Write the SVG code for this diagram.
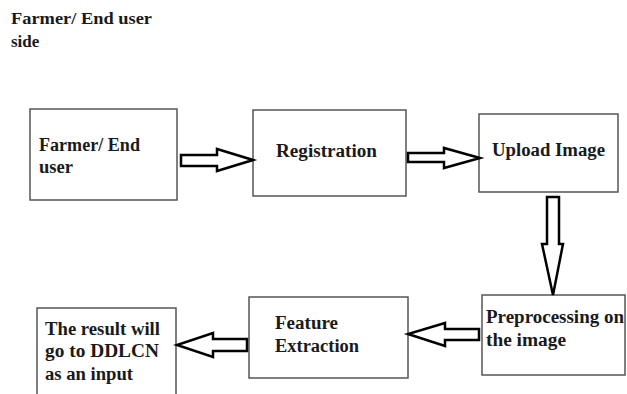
<svg xmlns="http://www.w3.org/2000/svg" width="627" height="394" viewBox="0 0 627 394">
<style>
  .box { fill: #ffffff; stroke: #555555; stroke-width: 1.5; }
  .arr { fill: #ffffff; stroke: #000000; stroke-width: 2.5; stroke-linejoin: miter; }
  text { font-family: "Liberation Serif", "Times New Roman", serif; font-weight: bold; font-size: 18px; fill: #1a1a1a; }
  .title { font-size: 17px; }
</style>
<rect width="627" height="394" fill="#ffffff"/>
<g id="title">
  <text class="title" x="11" y="24" textLength="141" lengthAdjust="spacingAndGlyphs">Farmer/ End user</text>
  <text class="title" x="11" y="47">side</text>
</g>
<g id="node-farmer">
  <rect class="box" x="30" y="109" width="147" height="91"/>
  <text x="39" y="151" textLength="101" lengthAdjust="spacingAndGlyphs">Farmer/ End</text>
  <text x="39" y="173" textLength="34" lengthAdjust="spacingAndGlyphs">user</text>
</g>
<g id="node-registration">
  <rect class="box" x="253" y="110" width="153" height="86"/>
  <text x="276" y="157" textLength="101" lengthAdjust="spacingAndGlyphs">Registration</text>
</g>
<g id="node-upload">
  <rect class="box" x="479" y="114" width="139" height="78"/>
  <text x="492" y="156" textLength="113" lengthAdjust="spacingAndGlyphs">Upload Image</text>
</g>
<g id="node-preprocessing">
  <rect class="box" x="482" y="295" width="143" height="80"/>
  <text x="486" y="323" textLength="138" lengthAdjust="spacingAndGlyphs">Preprocessing on</text>
  <text x="486" y="346" textLength="80" lengthAdjust="spacingAndGlyphs">the image</text>
</g>
<g id="node-feature">
  <rect class="box" x="249" y="297" width="159" height="81"/>
  <text x="275" y="329" textLength="63" lengthAdjust="spacingAndGlyphs">Feature</text>
  <text x="275" y="352" textLength="84" lengthAdjust="spacingAndGlyphs">Extraction</text>
</g>
<g id="node-result">
  <rect class="box" x="37" y="308" width="139" height="92"/>
  <text x="45" y="335" textLength="115" lengthAdjust="spacingAndGlyphs">The result will</text>
  <text x="45" y="357" textLength="114" lengthAdjust="spacingAndGlyphs">go to DDLCN</text>
  <text x="45" y="380" textLength="88" lengthAdjust="spacingAndGlyphs">as an input</text>
</g>
<g id="connectors">
  <polygon class="arr" points="181,155 217,155 217,149 253,160 217,171 217,166 181,166"/>
  <polygon class="arr" points="408,153 444,153 444,148 480,158 444,168 444,162 408,162"/>
  <polygon class="arr" points="547,197 559,197 559,244 563,244 553,295 542,244 547,244"/>
  <polygon class="arr" points="479,329 445,329 445,323 408,334 445,346 445,340 479,340"/>
  <polygon class="arr" points="247,339 213,339 213,333 177,345 213,357 213,351 247,351"/>
</g>
</svg>
